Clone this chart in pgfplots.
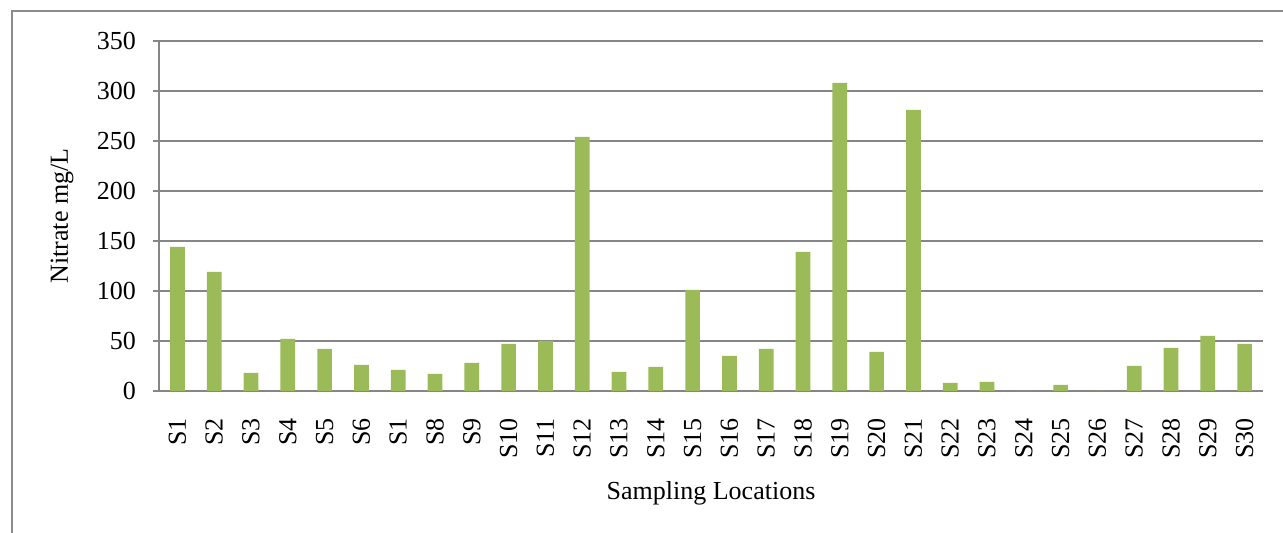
\documentclass[border=0pt]{standalone}
\usepackage{fontspec}
\setmainfont{Liberation Serif}
\usepackage{pgfplots}
\pgfplotsset{compat=1.18}

\definecolor{bargreen}{HTML}{9BBB59}
\definecolor{gridgray}{HTML}{868686}
\definecolor{framegray}{HTML}{8C8C8C}

\begin{document}
\begin{tikzpicture}[font=\fontsize{26}{31}\selectfont]
  \useasboundingbox (0,0) rectangle (1283pt,533pt);
  \clip (0,0) rectangle (1283pt,533pt);
  % chart frame
  \draw[framegray, line width=2pt] (12pt,-30pt) -- (12pt,522pt) -- (1320pt,522pt);
  \begin{axis}[
    at={(159pt,142pt)}, anchor=south west,
    scale only axis,
    width=1104pt, height=350pt,
    xmin=0.5, xmax=30.5,
    ymin=0, ymax=350,
    ytick={0,50,...,350},
    xtick=data,
    xticklabels={S1,S2,S3,S4,S5,S6,S1,S8,S9,S10,S11,S12,S13,S14,S15,S16,S17,S18,S19,S20,S21,S22,S23,S24,S25,S26,S27,S28,S29,S30},
    axis x line*=bottom, axis y line*=left,
    axis line style={-, gridgray, line width=1.1pt},
    ymajorgrids,
    major grid style={gridgray, line width=1.1pt},
    tick align=outside,
    ytick style={gridgray, line width=1.1pt},
    major tick length=6pt,
    xtick style={draw=none},
    /pgf/number format/assume math mode=true,
    ticklabel style={font=\fontsize{26}{31}\selectfont},
    xticklabel style={rotate=90, anchor=east, inner sep=0pt},
    xticklabel shift=21pt,
    yticklabel style={anchor=east, inner sep=0pt},
    yticklabel shift=17pt,
    xlabel={Sampling Locations},
    ylabel={Nitrate mg/L},
    every axis x label/.style={at={(axis description cs:0.5,-0.2914)}, anchor=center},
    every axis y label/.style={at={(axis description cs:-0.0878,0.5)}, rotate=90, anchor=center},
    label style={font=\fontsize{26}{31}\selectfont},
    ybar, bar width=14.7pt,
  ]
    \addplot[fill=bargreen, draw=none] coordinates {
      (1,144) (2,119) (3,18) (4,52) (5,42) (6,26) (7,21) (8,17) (9,28) (10,47)
      (11,50) (12,254) (13,19) (14,24) (15,101) (16,35) (17,42) (18,139) (19,308) (20,39)
      (21,281) (22,8) (23,9) (24,0) (25,6) (26,0) (27,25) (28,43) (29,55) (30,47)
    };
  \end{axis}
\end{tikzpicture}
\end{document}
